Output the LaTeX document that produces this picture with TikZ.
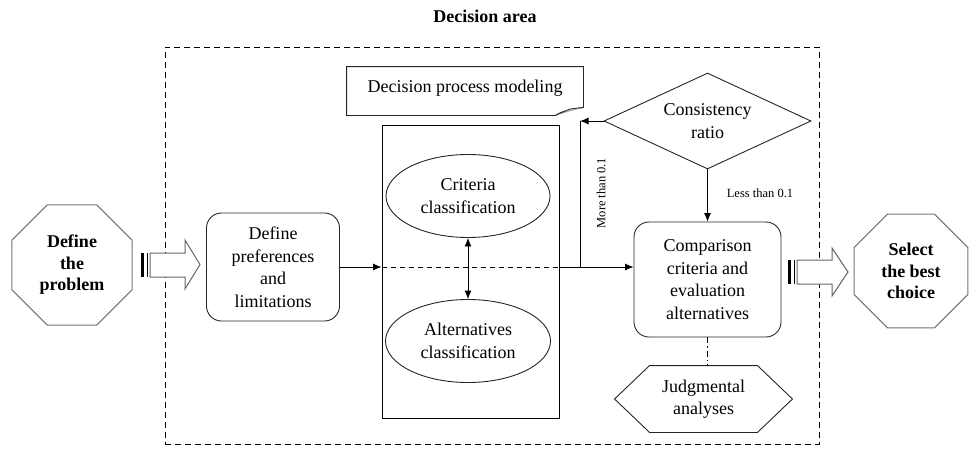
\documentclass[tikz,border=0pt]{standalone}
\usepackage{fontspec}
\setmainfont{Liberation Serif}
\usetikzlibrary{shapes.geometric,arrows.meta}
\begin{document}
\begin{tikzpicture}[x=1pt,y=-1pt,line width=0.9pt,
  txt/.style={font=\fontsize{18}{22.5}\selectfont,align=center,inner sep=1pt},
  boldtxt/.style={font=\fontsize{18}{21.5}\selectfont\bfseries,align=center,inner sep=1pt},
  small/.style={font=\fontsize{12.5}{14}\selectfont,inner sep=1pt},
  octo/.style={boldtxt,regular polygon,regular polygon sides=8,draw=black!55,line width=1pt},
  rbox/.style={txt,draw=black!85,rounded corners=15pt},
  ell/.style={txt,ellipse,draw=black!85},
  arr/.style={-{Latex[length=8.5pt,width=7pt]}},
  arrtwo/.style={{Latex[length=8.5pt,width=7pt]}-{Latex[length=8.5pt,width=7pt]}},
  fat/.style={draw=black!60,line width=1pt,fill=white},
  areadash/.style={dash pattern=on 6pt off 4pt},
  innerdash/.style={dash pattern=on 5pt off 4pt},
  dashdotline/.style={dash pattern=on 6pt off 3pt on 1.5pt off 3pt}]
\useasboundingbox (0,0) rectangle (969,450);

% decision area
\node[draw,areadash,minimum width=654pt,minimum height=397pt,inner sep=0] (area) at (492,245.5) {};
\node[boldtxt] (title) at (485,16) {Decision area};

% octagons
\node[octo,minimum size=130pt] (prob) at (72,265) {Define\\the\\problem};
\node[octo,minimum size=123pt] (best) at (911,271) {Select\\the best\\choice};

% main boxes
\node[rbox,minimum width=133pt,minimum height=108pt] (pref) at (273,267) {Define\\preferences\\and\\limitations};
\node[draw,minimum width=177pt,minimum height=293pt,inner sep=0] (inner) at (470.5,271.5) {};
\node[ell,minimum width=164pt,minimum height=83pt] (crit) at (468,196) {Criteria\\classification};
\node[ell,minimum width=165pt,minimum height=83pt] (alt) at (468,341) {Alternatives\\classification};
\node[txt,diamond,aspect=2.16,draw=black!85,minimum width=207pt,minimum height=96pt] (cr) at (707.5,121) {Consistency\\ratio};
\node[rbox,minimum width=147pt,minimum height=115pt] (comp) at (707.5,279.5) {Comparison\\criteria and\\evaluation\\alternatives};

% note box
\node[minimum width=236pt,minimum height=48pt,inner sep=0] (note) at (465,91) {};
\draw[black!85] (note.north west) -- (note.north east) -- ([yshift=8pt]note.south east)
  .. controls (570,109) and (560,112) .. ([xshift=-28pt]note.south east) -- (note.south west) -- cycle;
\fill[black!30] ([xshift=-28pt]note.south east) -- (570,109) -- ([yshift=8pt]note.south east) -- cycle;
\draw[black!85,line width=0.7pt] ([xshift=-28pt]note.south east) -- (570,109) -- ([yshift=8pt]note.south east);
\node[txt] (notetext) at (465,88) {Decision process modeling};

% hexagon
\node[txt,minimum width=177pt,minimum height=66pt] (judg) at (703.5,399) {Judgmental\\analyses};
\draw[black!85] (judg.west) -- ([xshift=35pt]judg.north west) -- ([xshift=-35pt]judg.north east)
  -- (judg.east) -- ([xshift=-35pt]judg.south east) -- ([xshift=35pt]judg.south west) -- cycle;

% fat arrows
\fill (141,253) rectangle (144,277);
\draw[line width=0.8pt] (147.2,253) -- (147.2,277);
\draw[fat] (150,253) -- (185,253) -- (185,240) -- (200,264.5) -- (185,289) -- (185,277) -- (150,277) -- cycle;
\fill (788,260) rectangle (791,284);
\draw[line width=0.8pt] (794.2,260) -- (794.2,284);
\draw[fat] (797,260) -- (832,260) -- (832,248) -- (848,272) -- (832,296) -- (832,284) -- (797,284) -- cycle;

% connectors
\coordinate (inL) at (inner.west |- pref.east);
\coordinate (inR) at (inner.east |- pref.east);
\coordinate (up) at (580,267);
\coordinate (upTop) at (up |- cr.west);
\draw[arr] (pref.east) -- (inL);
\draw[innerdash] (inL) -- (inR);
\draw[arr] (inR) -- (comp.west |- pref.east);
\draw (up) -- (upTop);
\draw[arr] (cr.west) -- (upTop);
\node[small,rotate=90] (more) at (601,193) {More than 0.1};
\draw[arr] (cr.south) -- (comp.north);
\node[small] (less) at (760,193) {Less than 0.1};
\draw[arrtwo] (crit.south) -- (alt.north);
\draw[dashdotline,line width=0.8pt] (comp.south) -- (comp.south |- judg.north);
\end{tikzpicture}
\end{document}
